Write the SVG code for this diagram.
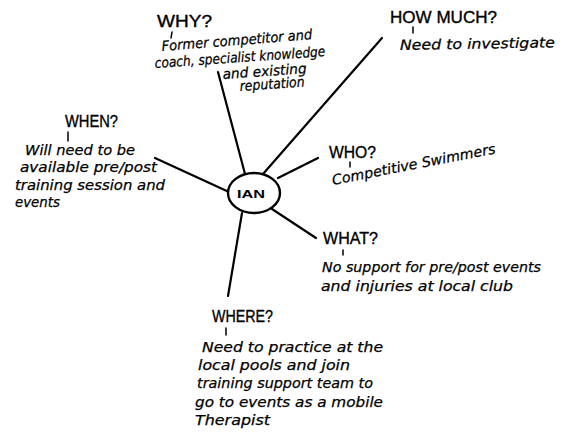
<svg xmlns="http://www.w3.org/2000/svg" width="571" height="440" viewBox="0 0 571 440">
<style>
.bg{fill:#ffffff}
.conn{stroke:#000;stroke-width:2.2;fill:none;stroke-linecap:round}
.tick{stroke:#000;stroke-width:1.5;stroke-linecap:round}
.head{font-family:"Liberation Sans",Arial,sans-serif;font-size:16.5px;fill:#000;stroke:#000;stroke-width:0.35}
.note{font-family:"DejaVu Sans","Liberation Sans",sans-serif;font-style:italic;font-size:14px;fill:#000;stroke:#000;stroke-width:0.25}
.ian{font-family:"Liberation Sans",Arial,sans-serif;font-weight:bold;font-size:11px;fill:#000}
.oval{fill:#fff;stroke:#000;stroke-width:2.4}
</style>
<rect class="bg" x="0" y="0" width="571" height="440"/>
<g id="connectors">
<line class="conn" x1="245" y1="174" x2="218" y2="72"/>
<line class="conn" x1="263" y1="174" x2="382" y2="38"/>
<line class="conn" x1="278" y1="178" x2="318" y2="158"/>
<line class="conn" x1="229" y1="192" x2="155" y2="158"/>
<line class="conn" x1="272" y1="209" x2="316" y2="238"/>
<line class="conn" x1="242" y1="213" x2="228" y2="296"/>
</g>
<g id="node-ian">
<ellipse class="oval" cx="254" cy="193" rx="26" ry="20"/>
<text class="ian" x="237" y="198" textLength="28" lengthAdjust="spacingAndGlyphs">IAN</text>
</g>
<g id="node-why">
<text class="head" x="157" y="27" textLength="55" lengthAdjust="spacingAndGlyphs">WHY?</text>
<line class="tick" x1="172" y1="32" x2="171" y2="38"/>
<text class="note" x="162" y="51" transform="rotate(-4.5 162 51)" textLength="151" lengthAdjust="spacingAndGlyphs">Former competitor and</text>
<text class="note" x="155" y="68" transform="rotate(-4 155 68)" textLength="171" lengthAdjust="spacingAndGlyphs">coach, specialist knowledge</text>
<text class="note" x="223" y="79" transform="rotate(-4 223 79)" textLength="84" lengthAdjust="spacingAndGlyphs">and existing</text>
<text class="note" x="240" y="91" transform="rotate(-4 240 91)" textLength="65" lengthAdjust="spacingAndGlyphs">reputation</text>
</g>
<g id="node-howmuch">
<text class="head" x="390" y="23" textLength="107" lengthAdjust="spacingAndGlyphs">HOW MUCH?</text>
<line class="tick" x1="413" y1="27" x2="413" y2="33"/>
<text class="note" x="400" y="50" transform="rotate(-1 400 50)" textLength="155" lengthAdjust="spacingAndGlyphs">Need to investigate</text>
</g>
<g id="node-when">
<text class="head" x="65" y="127" textLength="53" lengthAdjust="spacingAndGlyphs">WHEN?</text>
<line class="tick" x1="68" y1="132" x2="68" y2="141"/>
<text class="note" x="25" y="155" textLength="110" lengthAdjust="spacingAndGlyphs">Will need to be</text>
<text class="note" x="20" y="172" textLength="137" lengthAdjust="spacingAndGlyphs">available pre/post</text>
<text class="note" x="15" y="190" textLength="150" lengthAdjust="spacingAndGlyphs">training session and</text>
<text class="note" x="15" y="207" textLength="45" lengthAdjust="spacingAndGlyphs">events</text>
</g>
<g id="node-who">
<text class="head" x="329" y="158" textLength="47" lengthAdjust="spacingAndGlyphs">WHO?</text>
<line class="tick" x1="350" y1="162" x2="350" y2="167"/>
<text class="note" x="333" y="185" transform="rotate(-11 333 185)" textLength="166" lengthAdjust="spacingAndGlyphs">Competitive Swimmers</text>
</g>
<g id="node-what">
<text class="head" x="323" y="244" textLength="55" lengthAdjust="spacingAndGlyphs">WHAT?</text>
<line class="tick" x1="343" y1="250" x2="343" y2="255"/>
<text class="note" x="322" y="272" textLength="219" lengthAdjust="spacingAndGlyphs">No support for pre/post events</text>
<text class="note" x="321" y="291" textLength="192" lengthAdjust="spacingAndGlyphs">and injuries at local club</text>
</g>
<g id="node-where">
<text class="head" x="212" y="322" textLength="61" lengthAdjust="spacingAndGlyphs">WHERE?</text>
<line class="tick" x1="226" y1="328" x2="226" y2="335"/>
<text class="note" x="202" y="352" textLength="181" lengthAdjust="spacingAndGlyphs">Need to  practice at the</text>
<text class="note" x="198" y="370" textLength="152" lengthAdjust="spacingAndGlyphs">local pools and join</text>
<text class="note" x="197" y="388" textLength="176" lengthAdjust="spacingAndGlyphs">training support team to</text>
<text class="note" x="195" y="407" textLength="188" lengthAdjust="spacingAndGlyphs">go to events as a mobile</text>
<text class="note" x="195" y="425" textLength="75" lengthAdjust="spacingAndGlyphs">Therapist</text>
</g>
</svg>
